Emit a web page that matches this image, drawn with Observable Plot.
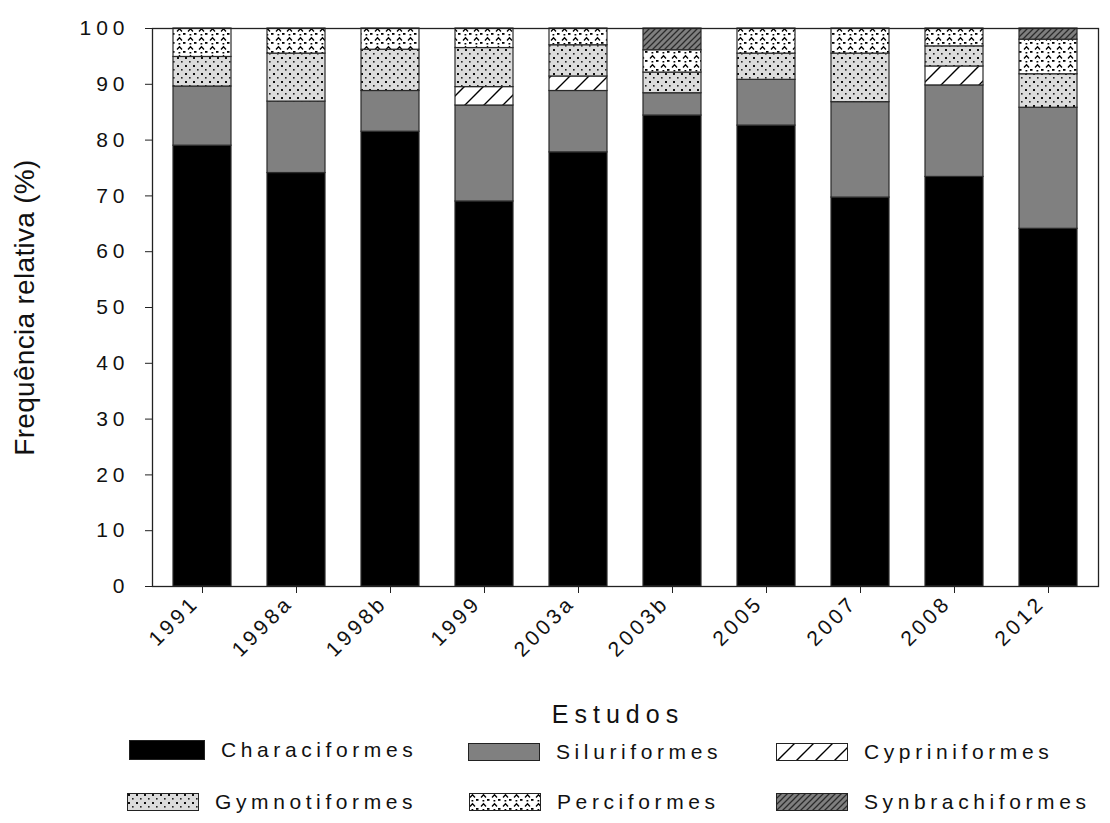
<!DOCTYPE html>
<html>
<head>
<meta charset="utf-8">
<script src="https://cdn.jsdelivr.net/npm/d3@7"></script>
<script src="https://cdn.jsdelivr.net/npm/@observablehq/plot@0.6"></script>
<style>
  html, body { margin: 0; padding: 0; background: #fff; }
  body { width: 1110px; height: 823px; position: relative; overflow: hidden; font-family: "Liberation Sans", Arial, sans-serif; }
  #chart svg { display: block; }
  .xtitle { position: absolute; top: 700px; left: 0; width: 1236px; text-align: center; font-size: 25px; letter-spacing: 6px; color: #111; }
  .leg { position: absolute; display: flex; align-items: center; font-size: 21px; letter-spacing: 4.6px; color: #111; white-space: nowrap; }
  .leg svg { margin-right: 16px; display: block; }
</style>
</head>
<body>
<svg width="0" height="0" style="position:absolute">
  <defs>
    <pattern id="pCyp" patternUnits="userSpaceOnUse" width="19" height="19">
      <rect width="19" height="19" fill="#fff"/>
      <path d="M-2 2 L2 -2 M0 19 L19 0 M17 21 L21 17" stroke="#000" stroke-width="1.4"/>
    </pattern>
    <pattern id="pGym" patternUnits="userSpaceOnUse" width="8" height="8">
      <rect width="8" height="8" fill="#dcdcdc"/>
      <rect x="1" y="1" width="2" height="2" fill="#111"/>
      <rect x="5" y="5" width="1.6" height="1.6" fill="#222"/>
    </pattern>
    <pattern id="pPerc" patternUnits="userSpaceOnUse" width="11" height="9">
      <rect width="11" height="9" fill="#fff"/>
      <path d="M1 4.5 L3.5 1.8 L6 4.5" stroke="#000" stroke-width="1.3" fill="none"/>
      <rect x="7" y="6" width="2.5" height="1.8" fill="#000"/>
      <rect x="2.5" y="7" width="1.8" height="1.5" fill="#000"/>
    </pattern>
    <pattern id="pSyn" patternUnits="userSpaceOnUse" width="6" height="6">
      <rect width="6" height="6" fill="#7f7f7f"/>
      <path d="M-1 1 L1 -1 M0 6 L6 0 M5 7 L7 5" stroke="#2b2b2b" stroke-width="1.3"/>
    </pattern>
  </defs>
</svg>
<div id="chart"></div>
<div class="xtitle">Estudos</div>
<div id="legend"></div>
<script>
const studies = ["1991","1998a","1998b","1999","2003a","2003b","2005","2007","2008","2012"];
const series = ["Characiformes","Siluriformes","Cypriniformes","Gymnotiformes","Perciformes","Synbrachiformes"];
const characiformes   = [79.0, 74.1, 81.5, 69.0, 77.8, 84.4, 82.6, 69.7, 73.4, 64.1];
const siluriformes    = [10.6, 12.8,  7.3, 17.2, 11.0,  4.0,  8.2, 17.1, 16.4, 21.7];
const cypriniformes   = [ 0,    0,    0,    3.3,  2.6,  0,    0,    0,    3.4,  0  ];
const gymnotiformes   = [ 5.3,  8.6,  7.4,  7.0,  5.6,  3.7,  4.7,  8.7,  3.6,  6.0];
const perciformes     = [ 5.1,  4.5,  3.8,  3.5,  3.0,  4.0,  4.5,  4.5,  3.2,  6.2];
const synbrachiformes = [ 0,    0,    0,    0,    0,    3.9,  0,    0,    0,    2.0];
const yTicks = [0,10,20,30,40,50,60,70,80,90,100];

const fills = ["#000000","#808080","url(#pCyp)","url(#pGym)","url(#pPerc)","url(#pSyn)"];
const valuesBySeries = [characiformes, siluriformes, cypriniformes, gymnotiformes, perciformes, synbrachiformes];

const rows = [];
series.forEach((s, i) => {
  studies.forEach((st, j) => {
    const v = valuesBySeries[i][j];
    if (v > 0) rows.push({study: st, series: s, value: v});
  });
});

const chart = Plot.plot({
  width: 1110,
  height: 690,
  marginLeft: 152,
  marginRight: 12,
  marginTop: 28,
  marginBottom: 104,
  style: {fontFamily: '"Liberation Sans", Arial, sans-serif', color: "#111", background: "#fff"},
  x: {domain: studies, paddingInner: 0.384, paddingOuter: 0.212},
  y: {domain: [0, 100]},
  color: {domain: series, range: fills},
  marks: [
    Plot.barY(rows, Plot.stackY({x: "study", y: "value", fill: "series", order: null, stroke: "#2a2a2a", strokeWidth: 1.2})),
    Plot.frame({stroke: "#222", strokeWidth: 1.3}),
    Plot.axisY({ticks: yTicks, tickSize: 7, tickPadding: 16, fontSize: 21, label: "Frequência relativa (%)", labelAnchor: "center", labelArrow: "none", labelOffset: 138, stroke: "#222"}),
    Plot.axisX({tickSize: 7, tickPadding: 4, fontSize: 21, tickRotate: -45, label: null, stroke: "#222"})
  ]
});
document.getElementById("chart").appendChild(chart);

const svg = d3.select(chart);
svg.selectAll('g[aria-label="y-axis tick label"] text').attr("letter-spacing", "5px");
const xl = svg.select('g[aria-label="x-axis tick label"]');
xl.selectAll("text").attr("letter-spacing", "3.5px");
xl.attr("transform", (xl.attr("transform") || "") + " translate(-7,2)");
svg.selectAll('g[aria-label="y-axis label"] text').attr("font-size", 28).attr("letter-spacing", "0.3px");

// Legend
const legendPos = [
  {x: 129, y: 742}, {x: 468, y: 744}, {x: 776, y: 744},
  {x: 127, y: 794}, {x: 469, y: 794}, {x: 776, y: 794}
];
const legend = document.getElementById("legend");
series.forEach((s, i) => {
  const p = legendPos[i];
  const div = document.createElement("div");
  div.className = "leg";
  div.style.left = p.x + "px";
  div.style.top = (p.y - 4) + "px";
  div.innerHTML = `<svg width="${i === 0 ? 76 : 72}" height="${i === 0 ? 20 : 18}"><rect x="0.5" y="0.5" width="${i === 0 ? 75 : 71}" height="${i === 0 ? 19 : 17}" fill="${fills[i]}" stroke="#222" stroke-width="1"/></svg><span>${s}</span>`;
  legend.appendChild(div);
});
</script>
</body>
</html>
